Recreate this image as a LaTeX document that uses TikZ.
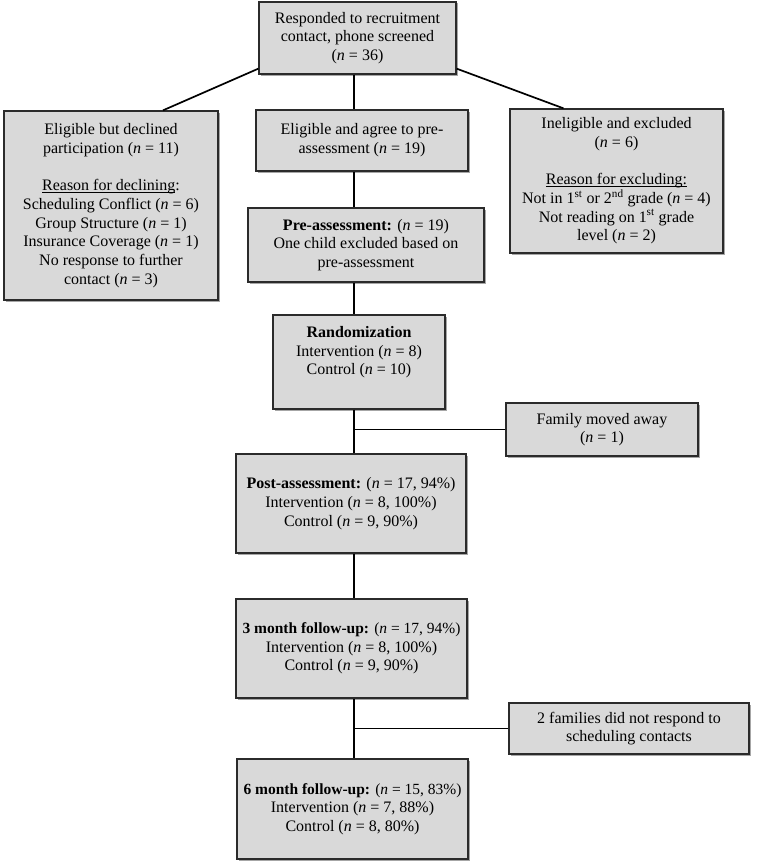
\documentclass[tikz,border=0pt]{standalone}
\usepackage{fontspec}
\setmainfont{Liberation Serif}
\usetikzlibrary{shadows}
\definecolor{boxfill}{HTML}{D9D9D9}
\definecolor{boxdraw}{HTML}{2B2B2B}
\newcommand\myul[1]{\setbox0\hbox{#1}\rlap{\rule[-2pt]{\wd0}{0.9pt}}\box0}
\newcommand\hd[1]{{\fontsize{15.5}{18.7}\selectfont #1}}
\begin{document}
\begin{tikzpicture}[x=1pt,y=-1pt,
  box/.style={draw=boxdraw, line width=1.3pt, fill=boxfill, inner sep=0pt, align=center,
    font=\fontsize{16}{18.7}\selectfont,
    drop shadow={shadow xshift=1.5pt, shadow yshift=-1.5pt, opacity=0.35, fill=black}},
  link/.style={line width=1.7pt, draw=black}]
\useasboundingbox (0,0) rectangle (766,867);
\coordinate (spine) at (354,0);
\node[box, minimum width=197pt, minimum height=72pt] (top) at (357.5,38)
  {Responded to recruitment\\contact, phone screened\\(\textit{n} = 36)};
\node[box, minimum width=214pt, minimum height=189pt] (decl) at (111,205.5)
  {Eligible but declined\\participation (\textit{n} = 11)\\[18.7pt]
   \myul{Reason for declining}:\\Scheduling Conflict (\textit{n} = 6)\\Group Structure (\textit{n} = 1)\\
   Insurance Coverage (\textit{n} = 1)\\No response to further\\contact (\textit{n} = 3)};
\node[box, minimum width=212pt, minimum height=61pt] (elig) at (362,140.5)
  {Eligible and agree to pre-\\assessment (\textit{n} = 19)};
\node[box, minimum width=213pt, minimum height=144pt] (inel) at (616.5,181)
  {Ineligible and excluded\\(\textit{n} = 6)\\[18.7pt]
   \myul{Reason for excluding:}\\Not in 1\textsuperscript{st} or 2\textsuperscript{nd} grade (\textit{n} = 4)\\
   Not reading on 1\textsuperscript{st} grade\\level (\textit{n} = 2)};
\node[box, minimum width=236pt, minimum height=74pt] (pre) at (366,245)
  {\textbf{Pre-assessment:} (\textit{n} = 19)\\One child excluded based on\\pre-assessment};
\node[box, minimum width=172pt, minimum height=94pt] (rand) at (359,362)
  {\textbf{Randomization}\\Intervention (\textit{n} = 8)\\Control (\textit{n} = 10)\\[4pt]};
\node[box, minimum width=192pt, minimum height=53pt] (moved) at (602,429.5)
  {Family moved away\\(\textit{n} = 1)};
\node[box, minimum width=230pt, minimum height=99pt] (post) at (351,503.5)
  {\textbf{Post-assessment:} (\textit{n} = 17, 94\%)\\Intervention (\textit{n} = 8, 100\%)\\Control (\textit{n} = 9, 90\%)};
\node[box, minimum width=231pt, minimum height=99pt] (mthree) at (351.5,648.5)
  {\hd{\textbf{3 month follow-up:} (\textit{n} = 17, 94\%)}\\Intervention (\textit{n} = 8, 100\%)\\Control (\textit{n} = 9, 90\%)};
\node[box, minimum width=240pt, minimum height=51pt] (norep) at (629,728.5)
  {2 families did not respond to\\scheduling contacts};
\node[box, minimum width=231pt, minimum height=100pt] (msix) at (352.5,809)
  {\hd{\textbf{6 month follow-up:} (\textit{n} = 15, 83\%)}\\Intervention (\textit{n} = 7, 88\%)\\Control (\textit{n} = 8, 80\%)};
% connectors
\draw[link] ([yshift=6pt]top.south west) -- ([xshift=52pt]decl.north);
\draw[link] ([yshift=6pt]top.south east) -- ([xshift=-53pt]inel.north);
\draw[link] (top.south -| spine) -- (elig.north -| spine);
\draw[link] (elig.south -| spine) -- (pre.north -| spine);
\draw[link] (pre.south -| spine) -- (rand.north -| spine);
\draw[link] (rand.south -| spine) -- (post.north -| spine);
\draw[link] (moved.west) -- (moved.west -| spine);
\draw[link] (post.south -| spine) -- (mthree.north -| spine);
\draw[link] (mthree.south -| spine) -- (msix.north -| spine);
\draw[link] (norep.west) -- (norep.west -| spine);
\end{tikzpicture}
\end{document}
